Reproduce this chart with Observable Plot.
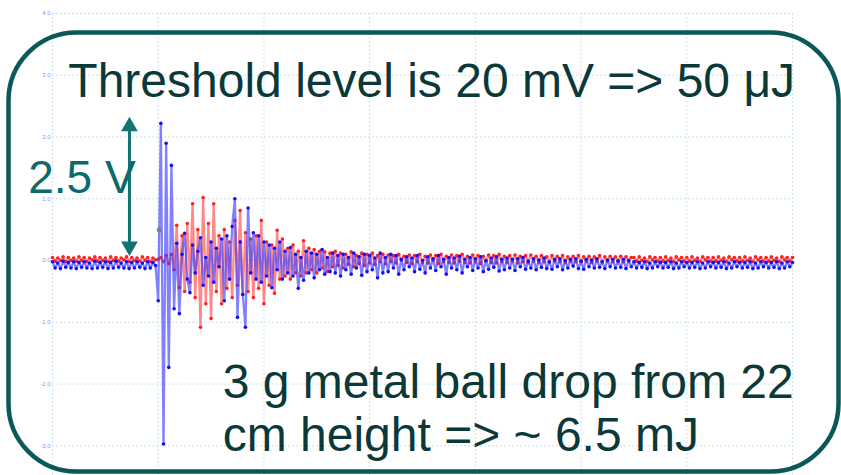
<!DOCTYPE html>
<html>
<head>
<meta charset="utf-8">
<script src="https://cdn.jsdelivr.net/npm/d3@7"></script>
<script src="https://cdn.jsdelivr.net/npm/@observablehq/plot@0.6"></script>
<style>
  html, body { margin: 0; padding: 0; background: #ffffff; }
  #chart { width: 841px; height: 475px; overflow: hidden; }
  svg { font-family: "Liberation Sans", Arial, sans-serif; }
</style>
</head>
<body>
<div id="chart"></div>
<script>
// Oscilloscope capture: time in screen divisions, amplitude in volts
const sampleStep = 0.025;          // divisions per sample
const yTicks = [-3, -2, -1, 0, 1, 2, 3, 4];
const xDivisions = [0, 1, 2, 3, 4, 5, 6, 7];

// Blue channel
const blueValues = [
  -0.02,-0.12,-0.04,-0.13,-0.01,-0.11,-0.03,-0.12,-0.02,-0.13,
  -0.03,-0.11,-0.02,-0.12,-0.04,-0.13,-0.01,-0.12,-0.03,-0.11,
  -0.02,-0.13,-0.03,-0.12,-0.01,-0.11,-0.04,-0.12,-0.02,-0.13,
  -0.03,-0.12,-0.02,-0.11,-0.04,-0.13,-0.02,-0.12,-0.03,-0.08,
  -0.65, 2.22,-2.97, 1.90,-1.73, 1.54,-0.78, 0.28,-0.86, 0.10,
   0.44,-0.30,-0.52, 0.25,-0.20, 0.15, 0.37,-0.40, 0.05,-0.25,
   0.30,-0.35, 0.20,-0.10, 0.35,-0.65, 0.40,-0.30, 0.55, 1.00,
  -0.92, 0.30,-0.55,-1.08, 0.85,-0.20, 0.45,-0.30, 0.40,-0.35,
   0.30,-0.25, 0.25,-0.44, 0.20,-0.15, 0.30,-0.30, 0.15,-0.20,
   0.21,-0.25, 0.10,-0.45, 0.05,-0.32, 0.15,-0.20, 0.12,-0.28,
   0.10,-0.15, 0.18,-0.22, 0.05,-0.18, 0.12,-0.20, 0.08,-0.25,
   0.10,-0.15, 0.05,-0.22, 0.12,-0.12, 0.06,-0.24, 0.10,-0.18,
   0.08,-0.15, 0.04,-0.28, 0.12,-0.20, 0.05,-0.18, 0.10,-0.12,
   0.08,-0.22, 0.02,-0.15, 0.06,-0.10, 0.04,-0.18, 0.08,-0.14,
   0.00,-0.20, 0.06,-0.12, 0.03,-0.16, 0.08,-0.10, 0.02,-0.22,
   0.05,-0.12, 0.04,-0.15, 0.07,-0.20, 0.02,-0.10, 0.05,-0.16,
   0.03,-0.12, 0.06,-0.18, 0.00,-0.14, 0.04,-0.11, 0.06,-0.17,
   0.02,-0.15, 0.04,-0.12, 0.02,-0.16, 0.03,-0.10, 0.05,-0.14,
  -0.01,-0.12, 0.03,-0.15, 0.01,-0.11, 0.04,-0.13,-0.02,-0.14,
   0.02,-0.10, 0.03,-0.15, 0.00,-0.12, 0.02,-0.09, 0.03,-0.13,
  -0.01,-0.14, 0.02,-0.10, 0.01,-0.12, 0.03,-0.11,-0.02,-0.13,
   0.01,-0.10, 0.02,-0.12,-0.01,-0.11, 0.02,-0.13, 0.00,-0.10,
  -0.02,-0.12,-0.03,-0.11,-0.02,-0.13,-0.04,-0.12,-0.02,-0.10,
  -0.03,-0.12,-0.03,-0.11,-0.02,-0.13,-0.04,-0.12,-0.02,-0.10,
  -0.03,-0.12,-0.03,-0.11,-0.02,-0.13,-0.04,-0.12,-0.02,-0.10,
  -0.03,-0.12,-0.03,-0.11,-0.02,-0.13,-0.04,-0.12,-0.02,-0.10,
  -0.03,-0.12,-0.03,-0.11,-0.02,-0.13,-0.04,-0.12,-0.02,-0.10,
  -0.03,-0.12,-0.03,-0.11,-0.02,-0.13,-0.04,-0.12,-0.02,-0.10,
  -0.03
];

// Red channel
const redValues = [
   0.05,-0.01, 0.04, 0.00, 0.06,-0.02, 0.05, 0.00, 0.04,-0.01,
   0.06, 0.00, 0.05,-0.02, 0.04, 0.01, 0.06,-0.01, 0.05, 0.00,
   0.04,-0.02, 0.06, 0.00, 0.05,-0.01, 0.04, 0.01, 0.06,-0.02,
   0.05, 0.00, 0.04,-0.01, 0.06, 0.00, 0.05,-0.02, 0.04, 0.01,
   0.02, 0.05,-0.02, 0.08,-0.05, 0.10,-0.15, 0.57,-0.44, 0.40,
  -0.50, 0.60,-0.35, 0.92,-0.60, 0.50,-1.08, 1.02,-0.70, 0.60,
  -0.94, 0.92,-0.50, 0.40,-0.70, 0.50,-0.45, 0.30,-0.60, 0.65,
  -0.40, 0.81,-0.55, 0.45,-0.50, 0.35,-0.60, 0.40,-0.45, 0.65,
  -0.70, 0.30,-0.40, 0.25,-0.53, 0.49,-0.30, 0.35,-0.25, 0.20,
  -0.30, 0.25,-0.20, 0.15,-0.25, 0.32,-0.20, 0.20,-0.15, 0.18,
  -0.20, 0.15,-0.12, 0.14,-0.18, 0.12,-0.10, 0.15,-0.08, 0.12,
  -0.12, 0.10,-0.06, 0.14,-0.10, 0.08,-0.05, 0.12,-0.08, 0.10,
  -0.04, 0.12,-0.06, 0.08,-0.02, 0.10,-0.05, 0.09,-0.02, 0.08,
  -0.04, 0.10, 0.00, 0.07,-0.03, 0.09,-0.05, 0.08,-0.02, 0.10,
  -0.03, 0.07,-0.04, 0.09, 0.00, 0.08,-0.05, 0.10,-0.02, 0.07,
  -0.03, 0.09,-0.04, 0.08,-0.01, 0.10,-0.03, 0.07,-0.04, 0.09,
  -0.02, 0.08,-0.05, 0.07,-0.01, 0.09,-0.03, 0.08,-0.04, 0.10,
  -0.02, 0.07,-0.03, 0.08,-0.01, 0.09,-0.04, 0.07,-0.02, 0.08,
  -0.03, 0.09,-0.01, 0.07,-0.03, 0.08,-0.02, 0.06,-0.03, 0.08,
  -0.01, 0.07,-0.02, 0.08,-0.03, 0.06,-0.01, 0.07,-0.02, 0.08,
  -0.02, 0.06,-0.01, 0.07,-0.03, 0.06,-0.01, 0.08,-0.02, 0.06,
  -0.01, 0.07,-0.02, 0.06, 0.00, 0.07,-0.02, 0.06,-0.01, 0.05,
   0.05,-0.01, 0.06, 0.00, 0.04,-0.02, 0.06, 0.01, 0.05,-0.01,
   0.05,-0.01, 0.06, 0.00, 0.04,-0.02, 0.06, 0.01, 0.05,-0.01,
   0.05,-0.01, 0.06, 0.00, 0.04,-0.02, 0.06, 0.01, 0.05,-0.01,
   0.05,-0.01, 0.06, 0.00, 0.04,-0.02, 0.06, 0.01, 0.05,-0.01,
   0.05,-0.01, 0.06, 0.00, 0.04,-0.02, 0.06, 0.01, 0.05,-0.01,
   0.05,-0.01, 0.06, 0.00, 0.04,-0.02, 0.06, 0.01, 0.05,-0.01,
   0.05
];

// Cursor marker on the blue trace
const cursorPoint = [{t: 1.01, v: 0.5}];

// Annotation texts
const thresholdText = "Threshold level is 20 mV => 50 \u03bcJ";
const spanText = "2.5 V";
const noteLines = ["3 g metal ball drop from 22", "cm height => ~ 6.5 mJ"];
// Annotation anchors in data coordinates (divisions, volts)
const thresholdAnchor = [{t: 0.15, v: 2.64, label: thresholdText}];
const spanAnchor = [{t: -0.23, v: 1.09, label: spanText}];
const noteAnchors = [
  {t: 1.61, v: -2.23, label: noteLines[0]},
  {t: 1.61, v: -3.08, label: noteLines[1]}
];
const arrowShaft = [{t: 0.728, v1: 2.1, v2: 0.28}];
const arrowHeads = [{t: 0.728, v: 2.17, rot: 0}, {t: 0.728, v: 0.23, rot: 180}];

const blue = blueValues.map((v, i) => ({t: i * sampleStep, v}));
const red = redValues.map((v, i) => ({t: i * sampleStep, v}));

const textFont = '"Liberation Sans", Arial, sans-serif';

const chart = Plot.plot({
  width: 841,
  height: 475,
  marginLeft: 52,
  marginRight: 49,
  marginTop: 0,
  marginBottom: 0,
  x: {domain: [0, 7], axis: null},
  y: {domain: [-3.48, 4.21], axis: null},
  style: {background: "#ffffff", fontFamily: textFont},
  marks: [
    // grid
    Plot.ruleY(yTicks, {x1: 0, x2: 7, stroke: "#c6e3ee", strokeDasharray: "2,2", strokeWidth: 1}),
    Plot.ruleX(xDivisions, {y1: 4, y2: -3.48, stroke: "#c6e3ee", strokeDasharray: "2,2", strokeWidth: 1}),
    // y tick labels
    Plot.text(yTicks, {x: 0, y: d => d, text: d => d.toFixed(1), textAnchor: "end", dx: -2, fontSize: 6, fill: "#8f8ff2"}),
    // traces
    Plot.line(red, {x: "t", y: "v", stroke: "#ff4a4a", strokeWidth: 2.3, strokeOpacity: 0.65}),
    Plot.dot(red, {x: "t", y: "v", r: 1.8, fill: "#ff2020", stroke: "none"}),
    Plot.line(blue, {x: "t", y: "v", stroke: "#3e3eff", strokeWidth: 2.3, strokeOpacity: 0.65}),
    Plot.dot(blue, {x: "t", y: "v", r: 1.8, fill: "#1010ff", stroke: "none"}),
    Plot.dot(cursorPoint, {x: "t", y: "v", r: 2.5, fill: "#808080", stroke: "none"}),
    // rounded callout box
    Plot.frame({insetLeft: -44, insetRight: -46, insetTop: 32, insetBottom: 4, rx: 68, ry: 68, stroke: "#0b5858", strokeWidth: 4.5, fill: "none"}),
    // double-headed arrow
    Plot.ruleX(arrowShaft, {x: "t", y1: "v1", y2: "v2", stroke: "#127472", strokeWidth: 3}),
    Plot.dot(arrowHeads, {x: "t", y: "v", symbol: "triangle", r: 6.2, rotate: "rot", fill: "#127472", stroke: "none"}),
    // texts
    Plot.text(thresholdAnchor, {x: "t", y: "v", text: "label", textAnchor: "start", lineAnchor: "bottom", fontSize: 48, fill: "#0b3838"}),
    Plot.text(spanAnchor, {x: "t", y: "v", text: "label", textAnchor: "start", lineAnchor: "bottom", fontSize: 46, fill: "#0c6a6a"}),
    Plot.text(noteAnchors, {x: "t", y: "v", text: "label", textAnchor: "start", lineAnchor: "bottom", fontSize: 48, fill: "#0b3838"})
  ]
});

document.getElementById("chart").appendChild(chart);
</script>
</body>
</html>
